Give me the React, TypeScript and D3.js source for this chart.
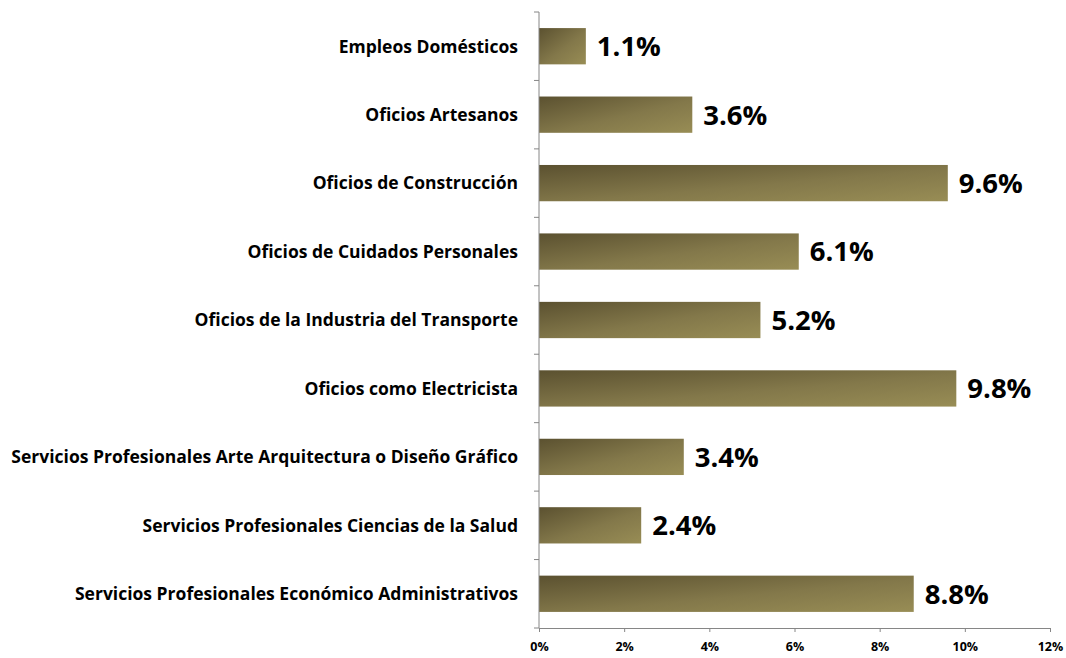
import React, { useEffect, useRef } from "react";
import * as d3 from "d3";

const categories = [
  "Empleos Domésticos",
  "Oficios Artesanos",
  "Oficios de Construcción",
  "Oficios de Cuidados Personales",
  "Oficios de la Industria del Transporte",
  "Oficios como Electricista",
  "Servicios Profesionales Arte Arquitectura o Diseño Gráfico",
  "Servicios Profesionales Ciencias de la Salud",
  "Servicios Profesionales Económico Administrativos",
];
const values = [1.1, 3.6, 9.6, 6.1, 5.2, 9.8, 3.4, 2.4, 8.8];
const xTicks = [0, 2, 4, 6, 8, 10, 12];

const W = 1066;
const H = 658;
const font = "'Open Sans', Lato, sans-serif";

export default function App() {
  const ref = useRef<SVGSVGElement>(null);

  useEffect(() => {
    const svg = d3.select(ref.current);
    svg.selectAll("*").remove();

    const top = 12;
    const bottom = 628;
    const x = d3.scaleLinear().domain([0, 12]).range([539, 1050]);
    const y = d3
      .scaleBand()
      .domain(categories)
      .range([top, bottom])
      .paddingInner(0.47)
      .paddingOuter(0.235);

    const defs = svg.append("defs");
    const grad = defs
      .append("linearGradient")
      .attr("id", "barGrad")
      .attr("x1", "0")
      .attr("y1", "0")
      .attr("x2", "1")
      .attr("y2", "1");
    grad.append("stop").attr("offset", "0%").attr("stop-color", "#5b5130");
    grad.append("stop").attr("offset", "55%").attr("stop-color", "#83784a");
    grad.append("stop").attr("offset", "100%").attr("stop-color", "#988d55");

    // bars
    svg
      .append("g")
      .selectAll("rect")
      .data(values)
      .join("rect")
      .attr("x", x(0))
      .attr("y", (d, i) => y(categories[i])!)
      .attr("width", (d) => x(d) - x(0))
      .attr("height", y.bandwidth())
      .attr("fill", "url(#barGrad)");

    // value labels
    svg
      .append("g")
      .selectAll("text")
      .data(values)
      .join("text")
      .attr("x", (d) => x(d) + 11)
      .attr("y", (d, i) => y(categories[i])! + y.bandwidth() / 2)
      .attr("dy", "0.36em")
      .attr("font-family", font)
      .attr("font-weight", "bold")
      .attr("font-size", 27.5)
      .attr("fill", "#000")
      .text((d) => d.toFixed(1) + "%");

    // y axis line + tick marks at band boundaries
    const yg = svg.append("g").attr("transform", `translate(${x(0)},0)`);
    yg.append("line")
      .attr("y1", top)
      .attr("y2", bottom)
      .attr("stroke", "#868686");
    const bounds = d3.range(categories.length + 1).map((i) => top + i * ((bottom - top) / categories.length));
    yg.selectAll(".bnd")
      .data(bounds)
      .join("line")
      .attr("x1", -5)
      .attr("x2", 0)
      .attr("y1", (d) => d)
      .attr("y2", (d) => d)
      .attr("stroke", "#868686");

    // category labels
    svg
      .append("g")
      .selectAll("text")
      .data(categories)
      .join("text")
      .attr("x", x(0) - 21)
      .attr("y", (d) => y(d)! + y.bandwidth() / 2)
      .attr("dy", "0.36em")
      .attr("text-anchor", "end")
      .attr("font-family", font)
      .attr("font-weight", "bold")
      .attr("font-size", 17.5)
      .attr("fill", "#000")
      .text((d) => d);

    // x axis
    const xAxis = d3
      .axisBottom(x)
      .tickValues(xTicks)
      .tickSize(4)
      .tickSizeOuter(0)
      .tickFormat((d) => `${d}%`);
    const xg = svg.append("g").attr("transform", `translate(0,${bottom})`).call(xAxis);
    xg.select(".domain").attr("stroke", "#868686");
    xg.selectAll(".tick line").attr("stroke", "#868686");
    xg.selectAll(".tick text")
      .attr("font-family", font)
      .attr("font-weight", "bold")
      .attr("font-size", 12.5)
      .attr("fill", "#000")
      .attr("y", 14)
      .attr("dy", "0.71em");
  }, []);

  return (
    <svg
      ref={ref}
      width={W}
      height={H}
      style={{ position: "absolute", left: 0, top: 0, background: "#fff" }}
    />
  );
}
